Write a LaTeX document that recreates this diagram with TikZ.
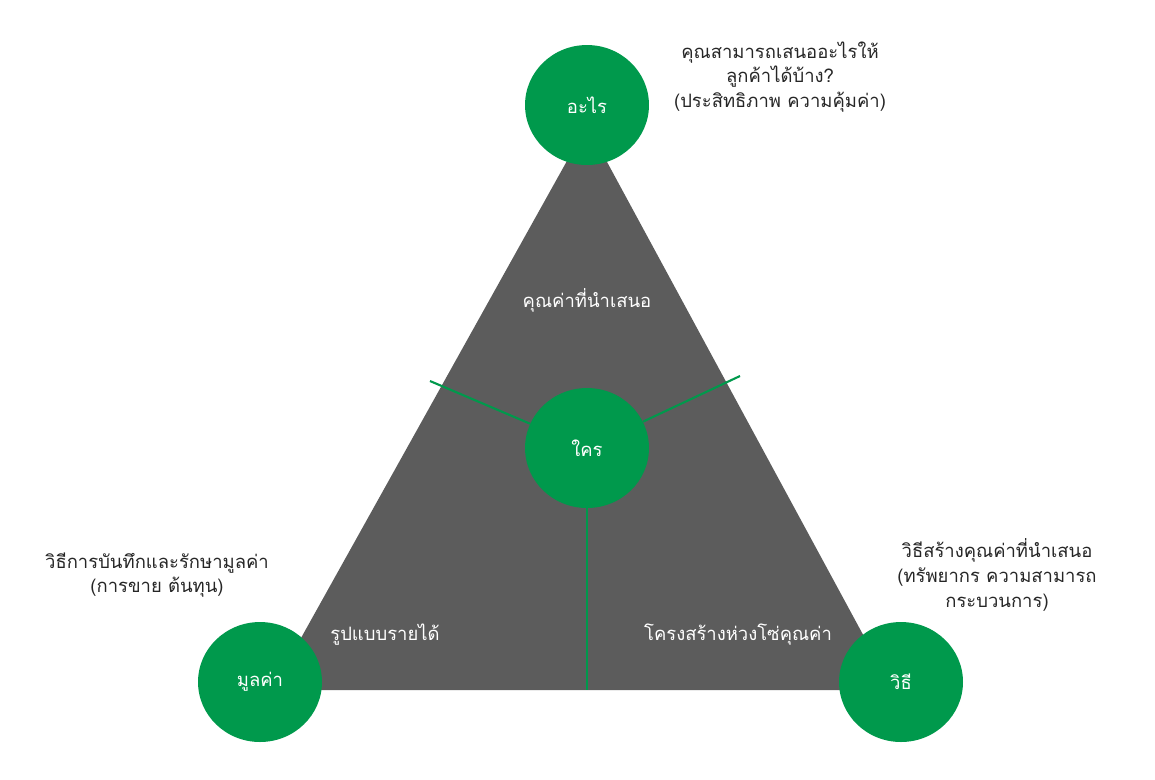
\documentclass[tikz,border=0pt]{standalone}
\usepackage{fontspec}
\setmainfont[Script=Thai]{Loma}
\usepackage{tikz}
\usetikzlibrary{positioning, shapes.geometric}
\definecolor{pgreen}{HTML}{00994C}
\definecolor{pgray}{HTML}{5C5C5C}
\begin{document}
\begin{tikzpicture}[x=0.02cm, y=-0.02cm,
    circ/.style={ellipse, fill=pgreen, minimum width=2.48cm, minimum height=2.4cm,
                 text=white, font=\fontsize{10.5}{12}\selectfont},
    note/.style={align=center, font=\fontsize{10.5}{14}\selectfont, text=black!85},
    inner/.style={text=white, font=\fontsize{10.5}{12}\selectfont},
    spoke/.style={draw=pgreen, line width=1.2pt}
]
    \useasboundingbox (0,0) rectangle (1155,779);

    % Triangle
    \coordinate (apex) at (587,125);
    \coordinate (bl) at (272,690);
    \coordinate (br) at (893,690);
    \fill[pgray] (apex) -- (br) -- (bl) -- cycle;

    % Spokes
    \coordinate (sl) at (430,381);
    \coordinate (sr) at (740,376);
    \coordinate (sb) at (587,690);
    \node[circ] (who) at (587,448) {ใคร};
    \draw[spoke] (who) -- (sl);
    \draw[spoke] (who) -- (sr);
    \draw[spoke] (who) -- (sb);

    % Corners
    \node[circ] (what) at (587,105) {อะไร};
    \node[circ] (value) at (260,682) {มูลค่า};
    \node[circ] (how) at (901,682) {วิธี};

    % Inner labels
    \node[inner] (offer) at (587,300) {คุณค่าที่นำเสนอ};
    \node[inner] (revenue) at (385,635) {รูปแบบรายได้};
    \node[inner] (chain) at (738,635) {โครงสร้างห่วงโซ่คุณค่า};

    % Notes
    \node[note] (whatnote) at (780,77) {คุณสามารถเสนออะไรให้\\ลูกค้าได้บ้าง?\\(ประสิทธิภาพ ความคุ้มค่า)};
    \node[note] (valuenote) at (157,575) {วิธีการบันทึกและรักษามูลค่า\\(การขาย ต้นทุน)};
    \node[note] (hownote) at (997,575) {วิธีสร้างคุณค่าที่นำเสนอ\\(ทรัพยากร ความสามารถ\\กระบวนการ)};
\end{tikzpicture}
\end{document}
